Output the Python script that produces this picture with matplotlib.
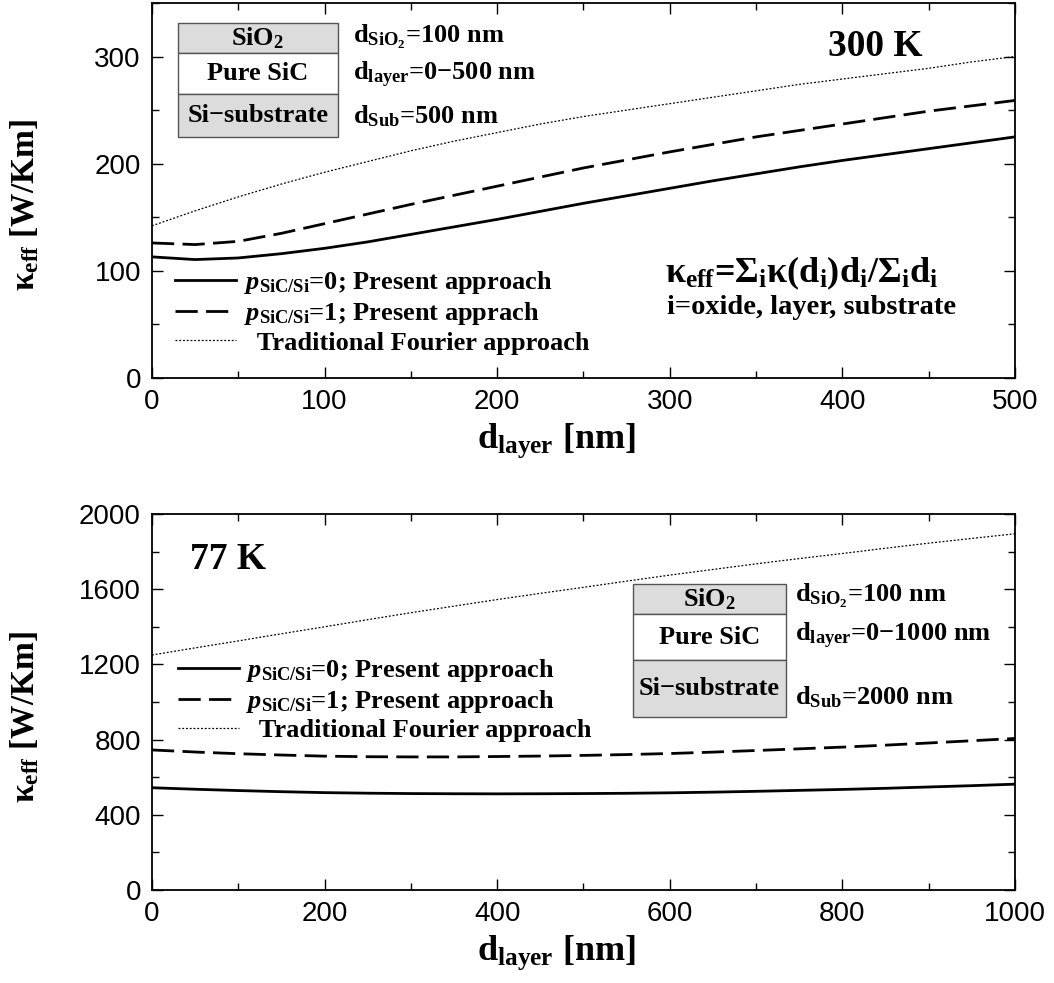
import matplotlib
matplotlib.use("Agg")
import matplotlib.pyplot as plt
from matplotlib.patches import Rectangle
from matplotlib.ticker import MultipleLocator

plt.rcParams['font.family'] = 'Liberation Sans'
plt.rcParams['mathtext.fontset'] = 'custom'
plt.rcParams['mathtext.rm'] = 'Liberation Serif:bold'
plt.rcParams['mathtext.it'] = 'Liberation Serif:bold:italic'
plt.rcParams['mathtext.bf'] = 'Liberation Serif:bold'

MINUS = '\u2212'

# 300 K panel
d_300 = [0, 25, 50, 75, 100, 125, 150, 175, 200, 225, 250, 275, 300, 325, 350,
         375, 400, 425, 450, 475, 500]
p0_300 = [113, 110.5, 112, 116, 121, 127, 134, 141, 148, 155.5, 163, 170, 177,
          184, 190.5, 197, 203, 208.5, 214, 219.5, 225]
p1_300 = [126, 124.5, 127.5, 135, 144, 153, 162, 170.5, 179, 187.5, 196, 203.5,
          211, 218, 225, 231, 237, 243, 249, 254, 259]
four_300 = [142, 156, 169, 181, 192, 202, 212, 221, 229, 237, 244, 250, 256,
            262, 268, 274, 279, 284, 289, 295, 300]

# 77 K panel
d_77 = [0, 50, 100, 150, 200, 250, 300, 350, 400, 450, 500, 550, 600, 650, 700,
        750, 800, 850, 900, 950, 1000]
p0_77 = [544, 536, 529, 523, 518, 515, 513, 512, 511.5, 512, 513, 514.5, 517,
         520.5, 525, 530, 535, 541, 548, 555, 563]
p1_77 = [745, 734, 725, 718, 712, 709, 708, 708, 710, 712.5, 716, 720.5, 726,
         733.5, 742, 751, 760, 770.5, 782, 794, 806]
four_77 = [1250, 1288, 1325, 1363, 1400, 1438, 1475, 1510, 1545, 1578, 1610,
           1643, 1675, 1705, 1735, 1763, 1790, 1818, 1845, 1870, 1895]

labels = [r'$p_{\mathrm{SiC/Si}}$=0; Present approach',
          r'$p_{\mathrm{SiC/Si}}$=1; Present apprach',
          '  Traditional Fourier approach']
labels_77 = [r'$p_{\mathrm{SiC/Si}}$=0; Present approach',
             r'$p_{\mathrm{SiC/Si}}$=1; Present approach',
             '  Traditional Fourier approach']
box_names = [r'SiO$_{\mathrm{2}}$', 'Pure SiC', 'Si' + MINUS + 'substrate']

serif = dict(family='Liberation Serif', weight='bold')

fig = plt.figure(figsize=(10.54, 9.83), dpi=100)
ax1 = fig.add_axes([0.1442, 0.6155, 0.8188, 0.3815])
ax2 = fig.add_axes([0.1442, 0.0946, 0.8188, 0.3825])


def draw(ax, d, p0, p1, four, labs):
    ax.plot(d, p0, color='black', lw=2.0, label=labs[0])
    ax.plot(d, p1, color='black', lw=2.0, dashes=(8, 3), label=labs[1])
    ax.plot(d, four, color='black', lw=0.9, dashes=(1.5, 1.5), label=labs[2])
    ax.tick_params(which='both', direction='in', top=True, right=True,
                   labelsize=20, width=1.0)
    ax.tick_params(which='major', length=8, pad=8)
    ax.tick_params(which='minor', length=5)
    for s in ax.spines.values():
        s.set_linewidth(1.3)
    ax.set_xlabel(r'd$_{\mathrm{layer}}$ [nm]', fontsize=26, **serif)
    ax.xaxis.set_label_coords(0.469, -0.115)
    ax.set_ylabel(r'$\mathrm{\kappa}_{\mathrm{eff}}$ [W/Km]', fontsize=24, **serif)
    ax.yaxis.set_label_coords(-0.128, 0.46)


def table(ax, x0, x1, ys, texts, ty, tx):
    fills = ['#dcdcdc', 'white', '#dcdcdc']
    for i in range(3):
        ax.add_patch(Rectangle((x0, ys[i + 1]), x1 - x0, ys[i] - ys[i + 1],
                               transform=ax.transAxes, facecolor=fills[i],
                               edgecolor='#555555', lw=1.0, zorder=3))
        ax.text((x0 + x1) / 2, (ys[i] + ys[i + 1]) / 2, box_names[i],
                transform=ax.transAxes, ha='center', va='center', fontsize=19,
                zorder=4, **serif)
        ax.text(tx, ty[i], texts[i], transform=ax.transAxes, ha='left', va='center',
                fontsize=19, zorder=4, **serif)


# top panel
draw(ax1, d_300, p0_300, p1_300, four_300, labels)
ax1.set_xlim(0, 500)
ax1.set_ylim(0, 350)
ax1.xaxis.set_major_locator(MultipleLocator(100))
ax1.xaxis.set_minor_locator(MultipleLocator(50))
ax1.yaxis.set_major_locator(MultipleLocator(100))
ax1.yaxis.set_minor_locator(MultipleLocator(50))
ax1.legend(loc='upper left', bbox_to_anchor=(0.027, 0.29), frameon=False,
           prop=dict(size=19, **serif), handlelength=2.3, handletextpad=0.3,
           labelspacing=0.15, borderpad=0, borderaxespad=0)
table(ax1, 0.030, 0.2155, [0.9467, 0.8667, 0.7573, 0.6427],
      [r'd$_{\mathrm{SiO_2}}$=100 nm', r'd$_{\mathrm{layer}}$=0' + MINUS + '500 nm',
       r'd$_{\mathrm{Sub}}$=500 nm'],
      [0.909, 0.808, 0.698], 0.233)
ax1.text(0.783, 0.885, '300 K', transform=ax1.transAxes, ha='left', va='center',
         fontsize=27, **serif)
ax1.text(0.595, 0.28,
         r'$\mathrm{\kappa}_{\mathrm{eff}}$=$\Sigma_{\mathrm{i}}\mathrm{\kappa}$(d$_{\mathrm{i}}$)d$_{\mathrm{i}}$/$\Sigma_{\mathrm{i}}$d$_{\mathrm{i}}$',
         transform=ax1.transAxes, ha='left', va='center', fontsize=26, **serif)
ax1.text(0.597, 0.187, 'i=oxide, layer, substrate', transform=ax1.transAxes,
         ha='left', va='center', fontsize=20.5, **serif)

# bottom panel
draw(ax2, d_77, p0_77, p1_77, four_77, labels_77)
ax2.set_xlim(0, 1000)
ax2.set_ylim(0, 2000)
ax2.xaxis.set_major_locator(MultipleLocator(200))
ax2.xaxis.set_minor_locator(MultipleLocator(100))
ax2.yaxis.set_major_locator(MultipleLocator(400))
ax2.yaxis.set_minor_locator(MultipleLocator(200))
ax2.legend(loc='upper left', bbox_to_anchor=(0.030, 0.62), frameon=False,
           prop=dict(size=19, **serif), handlelength=2.3, handletextpad=0.3,
           labelspacing=0.15, borderpad=0, borderaxespad=0)
table(ax2, 0.557, 0.7347, [0.8138, 0.734, 0.6117, 0.46],
      [r'd$_{\mathrm{SiO_2}}$=100 nm', r'd$_{\mathrm{layer}}$=0' + MINUS + '1000 nm',
       r'd$_{\mathrm{Sub}}$=2000 nm'],
      [0.782, 0.676, 0.513], 0.745)
ax2.text(0.044, 0.878, '77 K', transform=ax2.transAxes, ha='left', va='center',
         fontsize=27, **serif)

fig.savefig('out.png', dpi=100)
